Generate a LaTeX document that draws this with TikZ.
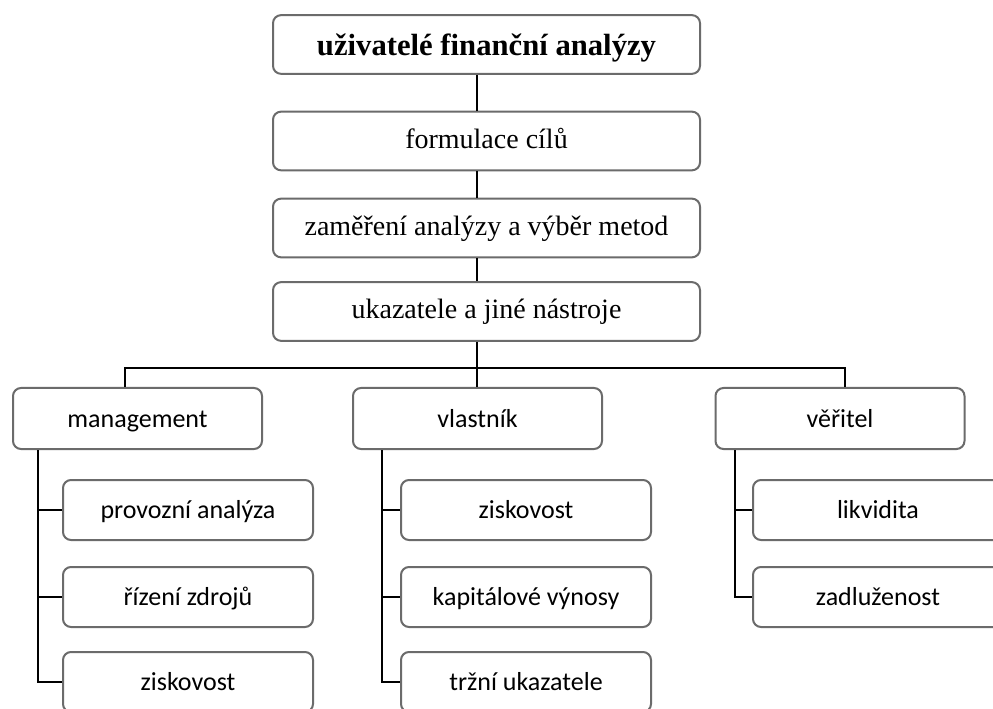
\documentclass[tikz,border=0pt]{standalone}
\usepackage{fontspec}
\setmainfont{Liberation Serif}
\newfontfamily\uisans{Carlito}
\begin{document}
\begin{tikzpicture}[x=0.75pt,y=-0.75pt,
  boxline/.style={draw=black!58,line width=1.5pt,rounded corners=6pt,fill=white,inner sep=0pt},
  topbox/.style={boxline,minimum width=320.25pt,minimum height=44pt,text height=15pt,text depth=3.8pt,font=\fontsize{21}{24}\selectfont},
  midbox/.style={boxline,minimum width=186.75pt,minimum height=45.75pt,text height=16pt,text depth=3.2pt,font=\uisans\fontsize{19.5}{22}\selectfont},
  leafbox/.style={boxline,minimum width=187.5pt,minimum height=45pt,text height=16pt,text depth=3.2pt,font=\uisans\fontsize{19.5}{22}\selectfont},
  conn/.style={draw=black,line width=1.1pt}]
\useasboundingbox[fill=white] (0,0) rectangle (993,709);
% top column
\node[topbox,text height=19pt,text depth=3.2pt,font=\bfseries\fontsize{23}{26}\selectfont] (b1) at (486.5,44.5) {uživatelé finanční analýzy};
\node[topbox] (b2) at (486.5,141) {formulace cílů};
\node[topbox] (b3) at (486.5,228) {zaměření analýzy a výběr metod};
\node[topbox] (b4) at (486.5,311.5) {ukazatele a jiné nástroje};
% second level
\node[midbox] (m) at (137.5,418.5) {management};
\node[midbox] (v) at (477.5,418.5) {vlastník};
\node[midbox] (w) at (840,418.5) {věřitel};
% leaves
\node[leafbox] (m1) at (188,510) {provozní analýza};
\node[leafbox] (m2) at (188,597) {řízení zdrojů};
\node[leafbox] (m3) at (188,682) {ziskovost};
\node[leafbox] (v1) at (526,510) {ziskovost};
\node[leafbox] (v2) at (526,597) {kapitálové výnosy};
\node[leafbox] (v3) at (526,682) {tržní ukazatele};
\node[leafbox] (w1) at (878,510) {likvidita};
\node[leafbox] (w2) at (878,597) {zadluženost};
% helper coordinates
\coordinate (cx) at (477,0);
\coordinate (bar) at (0,368);
\coordinate (mx) at (125,0);
\coordinate (wx) at (845,0);
\coordinate (mt) at (38,0);
\coordinate (vt) at (382,0);
\coordinate (wt) at (735,0);
% connectors
\draw[conn] (b1.south -| cx) -- (b2.north -| cx);
\draw[conn] (b2.south -| cx) -- (b3.north -| cx);
\draw[conn] (b3.south -| cx) -- (b4.north -| cx);
\draw[conn] (b4.south -| cx) -- (bar -| cx);
\draw[conn] (m.north -| mx) -- (bar -| mx) -- (bar -| wx) -- (w.north -| wx);
\draw[conn] (bar -| cx) -- (v.north -| cx);
\draw[conn] (m.south -| mt) -- (m3.west -| mt) -- (m3.west);
\draw[conn] (m1.west -| mt) -- (m1.west);
\draw[conn] (m2.west -| mt) -- (m2.west);
\draw[conn] (v.south -| vt) -- (v3.west -| vt) -- (v3.west);
\draw[conn] (v1.west -| vt) -- (v1.west);
\draw[conn] (v2.west -| vt) -- (v2.west);
\draw[conn] (w.south -| wt) -- (w2.west -| wt) -- (w2.west);
\draw[conn] (w1.west -| wt) -- (w1.west);
\end{tikzpicture}
\end{document}
